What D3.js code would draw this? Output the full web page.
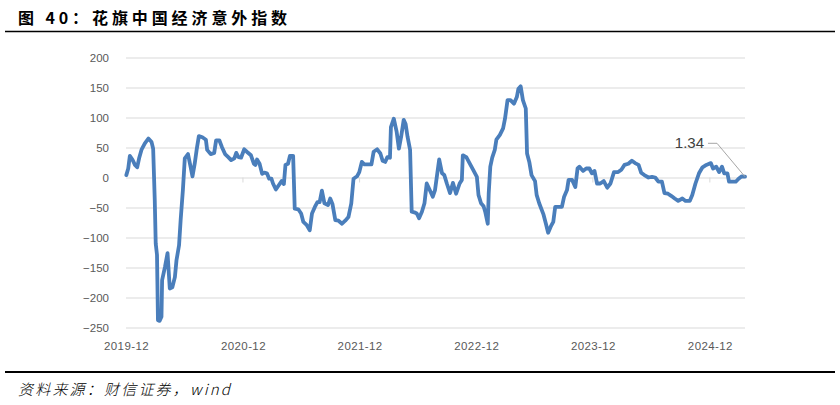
<!DOCTYPE html>
<html>
<head>
<meta charset="utf-8">
<script src="https://cdn.jsdelivr.net/npm/d3@7"></script>
<style>
  body { margin: 0; background: #fff; }
  svg { display: block; }
</style>
</head>
<body>
<div id="chart"></div>
<script>
// 花旗中国经济意外指数, values
const dates = [
  "2019-12-02","2019-12-08","2019-12-13","2019-12-21","2019-12-29","2020-01-05","2020-01-11","2020-01-19",
  "2020-01-29","2020-02-09","2020-02-19","2020-02-24","2020-02-29","2020-03-03","2020-03-07","2020-03-10",
  "2020-03-15","2020-03-21","2020-03-23","2020-04-01","2020-04-09","2020-04-16","2020-04-24","2020-05-02",
  "2020-05-07","2020-05-15","2020-05-20","2020-05-27","2020-06-02","2020-06-12","2020-06-20","2020-06-26",
  "2020-07-03","2020-07-09","2020-07-16","2020-07-27","2020-08-07","2020-08-11","2020-08-22","2020-09-02",
  "2020-09-08","2020-09-18","2020-09-26","2020-10-06","2020-10-16","2020-10-25","2020-11-04","2020-11-10",
  "2020-11-17","2020-11-25","2020-12-05","2020-12-13","2020-12-26","2021-01-04","2021-01-09","2021-01-14",
  "2021-01-22","2021-01-30","2021-02-06","2021-02-14","2021-02-21","2021-02-28","2021-03-05","2021-03-14",
  "2021-03-23","2021-04-01","2021-04-08","2021-04-13","2021-04-21","2021-04-27","2021-05-07","2021-05-12",
  "2021-05-23","2021-06-01","2021-06-08","2021-06-18","2021-06-28","2021-07-05","2021-07-14","2021-07-22",
  "2021-07-29","2021-08-05","2021-08-13","2021-08-24","2021-08-31","2021-09-07","2021-09-16","2021-09-26",
  "2021-10-07","2021-10-17","2021-10-27","2021-11-05","2021-11-12","2021-11-23","2021-11-30","2021-12-08",
  "2021-12-16","2021-12-27","2022-01-07","2022-01-14","2022-01-25","2022-02-04","2022-02-11","2022-02-19",
  "2022-02-26","2022-03-06","2022-03-09","2022-03-18","2022-03-27","2022-04-03","2022-04-10","2022-04-18",
  "2022-04-24","2022-04-30","2022-05-08","2022-05-13","2022-05-21","2022-05-29","2022-06-05","2022-06-14",
  "2022-06-22","2022-06-29","2022-07-06","2022-07-18","2022-07-25","2022-08-07","2022-08-16","2022-08-23",
  "2022-08-31","2022-09-10","2022-09-19","2022-09-29","2022-10-10","2022-10-17","2022-10-20","2022-10-31",
  "2022-11-10","2022-11-21","2022-12-03","2022-12-08","2022-12-16","2022-12-24","2022-12-29","2023-01-06",
  "2023-01-09","2023-01-14","2023-01-20","2023-01-28","2023-02-02","2023-02-13","2023-02-23","2023-03-01",
  "2023-03-09","2023-03-18","2023-03-29","2023-04-07","2023-04-12","2023-04-19","2023-04-26","2023-05-05",
  "2023-05-09","2023-05-16","2023-05-23","2023-06-03","2023-06-08","2023-06-16","2023-06-29","2023-07-07",
  "2023-07-14","2023-07-22","2023-07-30","2023-08-05","2023-08-15","2023-08-26","2023-09-02","2023-09-11",
  "2023-09-16","2023-09-27","2023-10-07","2023-10-14","2023-10-20","2023-10-31","2023-11-10","2023-11-20",
  "2023-11-28","2023-12-06","2023-12-14","2023-12-24","2024-01-04","2024-01-15","2024-01-25","2024-02-05",
  "2024-02-18","2024-02-28","2024-03-09","2024-03-21","2024-04-01","2024-04-11","2024-04-22","2024-04-30",
  "2024-05-10","2024-05-23","2024-06-03","2024-06-13","2024-06-23","2024-07-04","2024-07-12","2024-07-23",
  "2024-08-03","2024-08-13","2024-08-24","2024-09-06","2024-09-16","2024-09-29","2024-10-07","2024-10-17",
  "2024-10-28","2024-11-08","2024-11-20","2024-12-04","2024-12-11","2024-12-21","2024-12-30","2025-01-08",
  "2025-01-15","2025-01-25","2025-01-30","2025-02-10","2025-02-20","2025-03-01","2025-03-11","2025-03-21"
];

const values = [
  4, 15, 36, 30, 21, 17, 32, 47,
  57, 65, 59, 48, -38, -110, -129, -238,
  -239, -232, -171, -149, -126, -185, -183, -166,
  -138, -113, -71, -21, 32, 39, 18, 2,
  23, 46, 69, 67, 63, 46, 39, 41,
  62, 62, 51, 39, 34, 29, 32, 41,
  34, 33, 47, 43, 37, 23, 21, 30,
  23, 6, 8, 7, -2, -2, -10, -20,
  -13, -6, -11, 21, 23, 36, 36, -52,
  -53, -60, -74, -79, -88, -60, -49, -41,
  -41, -22, -43, -46, -35, -44, -71, -72,
  -77, -72, -66, -43, -2, 2, 9, 26,
  22, 22, 22, 43, 47, 40, 28, 26,
  34, 33, 84, 98, 76, 48, 68, 96,
  89, 68, 46, -57, -58, -60, -68, -57,
  -43, -10, -18, -32, -21, 30, 7, 4,
  -10, -26, -9, -27, -10, -4, 37, 34,
  24, 13, 1, -29, -43, -48, -57, -77,
  -27, 18, 33, 46, 63, 71, 82, 98,
  129, 129, 123, 134, 148, 152, 129, 115,
  40, 26, 4, -6, -29, -43, -61, -77,
  -92, -82, -74, -49, -49, -49, -32, -21,
  -4, -4, -16, 15, 18, 11, 15, 15,
  7, 11, -10, -10, -6, -17, -10, 9,
  9, 13, 21, 23, 28, 24, 21, 8,
  4, 0, 1, 0, -7, -7, -26, -27,
  -31, -35, -39, -35, -39, -39, -29, -10,
  7, 17, 21, 24, 15, 18, 9, 18,
  7, 7, -7, -7, -7, -2, 2, 1.34
];

const xTickDates = ["2019-12-01","2020-12-01","2021-12-01","2022-12-01","2023-12-01","2024-12-01"];
const xTickLabels = ["2019-12","2020-12","2021-12","2022-12","2023-12","2024-12"];
const yTicks = [200, 150, 100, 50, 0, -50, -100, -150, -200, -250];

const width = 840, height = 405;
const parse = d3.timeParse("%Y-%m-%d");
const data = dates.map((d, i) => ({ date: parse(d), value: values[i] }));

const svg = d3.select("#chart").append("svg")
  .attr("width", width)
  .attr("height", height);

// title
svg.append("text")
  .attr("x", 18)
  .attr("y", 24)
  .attr("font-family", "'Noto Sans CJK SC', sans-serif")
  .attr("font-size", 16)
  .attr("font-weight", "bold")
  .attr("letter-spacing", 3.9)
  .attr("fill", "#000")
  .text("图 40：花旗中国经济意外指数");

svg.append("line")
  .attr("x1", 5).attr("x2", 835)
  .attr("y1", 31.5).attr("y2", 31.5)
  .attr("stroke", "#000").attr("stroke-width", 1.6);

const x = d3.scaleTime()
  .domain([parse("2019-12-01"), parse("2025-03-21")])
  .range([126, 745]);

const y = d3.scaleLinear()
  .domain([-250, 200])
  .range([327.5, 57.5]);

// gridlines + y labels
const yAxis = svg.append("g")
  .attr("transform", "translate(126,0)")
  .call(d3.axisLeft(y).tickValues(yTicks).tickSize(-(745 - 126)).tickPadding(17));
yAxis.select(".domain").remove();
yAxis.selectAll(".tick line").attr("stroke", "#d9d9d9").attr("stroke-width", 1);
yAxis.selectAll(".tick text")
  .attr("fill", "#595959")
  .attr("font-family", "'Liberation Sans', Arial, sans-serif")
  .attr("font-size", 11.5);

// small tick marks on the zero line
svg.append("g")
  .selectAll("line")
  .data(xTickDates.slice(1))
  .join("line")
  .attr("x1", d => x(parse(d))).attr("x2", d => x(parse(d)))
  .attr("y1", y(0)).attr("y2", y(0) + 5)
  .attr("stroke", "#d9d9d9");

// x labels at bottom
const xAxis = svg.append("g")
  .attr("transform", `translate(0,${y(-250)})`)
  .call(d3.axisBottom(x)
    .tickValues(xTickDates.map(parse))
    .tickSize(0)
    .tickPadding(14)
    .tickFormat((d, i) => xTickLabels[i]));
xAxis.select(".domain").remove();
xAxis.selectAll(".tick text")
  .attr("fill", "#595959")
  .attr("font-family", "'Liberation Sans', Arial, sans-serif")
  .attr("font-size", 11.5)
  .attr("letter-spacing", 0.4);

// the series
const line = d3.line()
  .x(d => x(d.date))
  .y(d => y(d.value));

svg.append("path")
  .datum(data)
  .attr("fill", "none")
  .attr("stroke", "#4a7ebb")
  .attr("stroke-width", 3.8)
  .attr("stroke-linejoin", "round")
  .attr("stroke-linecap", "round")
  .attr("d", line);

// last value label with leader
const last = data[data.length - 1];
const lx = x(last.date), ly = y(last.value);
svg.append("path")
  .attr("d", `M${lx - 37},${y(57)}L${lx - 28},${y(57)}L${lx},${ly}`)
  .attr("fill", "none")
  .attr("stroke", "#a6a6a6")
  .attr("stroke-width", 1);
svg.append("text")
  .attr("x", lx - 41)
  .attr("y", y(57) + 5)
  .attr("text-anchor", "end")
  .attr("fill", "#404040")
  .attr("font-family", "'Liberation Sans', Arial, sans-serif")
  .attr("font-size", 15)
  .text(d3.format(".2f")(last.value));

// bottom rule and source
svg.append("line")
  .attr("x1", 5).attr("x2", 835)
  .attr("y1", 372).attr("y2", 372)
  .attr("stroke", "#000").attr("stroke-width", 2);

svg.append("text")
  .attr("x", 18)
  .attr("y", 395)
  .attr("font-family", "'Noto Sans CJK SC', sans-serif")
  .attr("font-size", 15)
  .attr("font-style", "italic")
  .attr("font-weight", 300)
  .attr("letter-spacing", 2.2)
  .attr("fill", "#000")
  .text("资料来源：财信证券，wind");
</script>
</body>
</html>
